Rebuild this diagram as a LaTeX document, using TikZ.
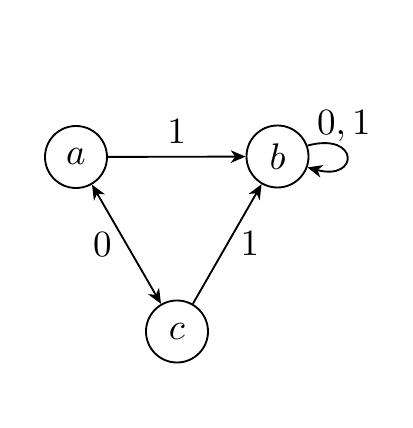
\documentclass[tikz,border=0pt]{standalone}
\usetikzlibrary{arrows.meta}
\begin{document}
\begin{tikzpicture}[x=0.27pt,y=-0.27pt,
  state/.style={draw,circle,line width=0.5pt,minimum size=62*0.27pt,inner sep=0pt},
  tip/.style={Stealth[length=4pt,width=3.4pt,inset=1.2pt]},
  trans/.style={line width=0.5pt,-{Stealth[length=4pt,width=3.4pt,inset=1.2pt]}},
  bitrans/.style={line width=0.5pt,{Stealth[length=4pt,width=3.4pt,inset=1.2pt]}-{Stealth[length=4pt,width=3.4pt,inset=1.2pt]}}]
\useasboundingbox (0,0) rectangle (412,428);
\node[state] (a) at (76,157) {$a$};
\node[state] (b) at (277.5,156.5) {$b$};
\node[state] (c) at (177,331.5) {$c$};
\draw[trans] (a) -- node[midway,above=0pt] {$1$} (b);
\draw[trans] (c) -- node[midway,right=0pt] {$1$} (b);
\draw[bitrans] (a) -- node[midway,left=0.4pt] {$0$} (c);
\draw[trans] (b.20) .. controls +(52,-14) and +(52,14) .. node[pos=0.3,anchor=south,inner sep=0pt,xshift=1pt,yshift=1pt] {$0,1$} (b.-20);
\end{tikzpicture}
\end{document}
